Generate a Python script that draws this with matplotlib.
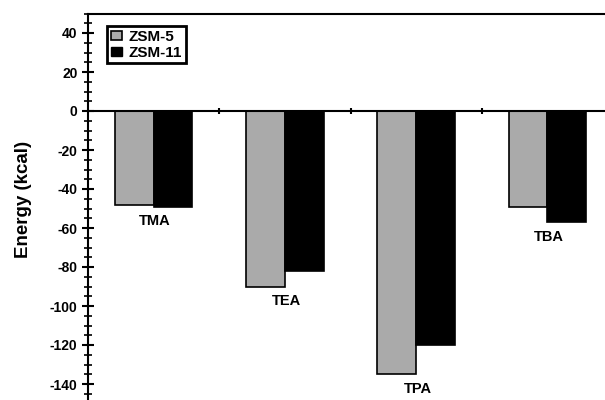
import matplotlib
matplotlib.use("Agg")
import matplotlib.pyplot as plt
from matplotlib.patches import Patch
from matplotlib.ticker import MultipleLocator, FixedLocator, NullFormatter
import numpy as np

plt.rcParams['font.family'] = ['Liberation Sans', 'DejaVu Sans']

categories = ["TMA", "TEA", "TPA", "TBA"]
zsm5 = [-48, -90, -135, -49]
zsm11 = [-49, -82, -120, -57]
series_names = ["ZSM-5", "ZSM-11"]
yticks = [40, 20, 0, -20, -40, -60, -80, -100, -120, -140]

fig = plt.figure(figsize=(6.05, 4.0), dpi=100)
ax = fig.add_axes([88/605, 1 - 403.5/400, (613-88)/605, (403.5-13.5)/400])

x = np.arange(len(categories))
w = 0.295
gray = "#aaaaaa"
ax.bar(x - w/2, zsm5, width=w, color=gray, edgecolor="black", linewidth=1.2, zorder=2)
ax.bar(x + w/2, zsm11, width=w, color="black", edgecolor="black", linewidth=1.2, zorder=2)

for i, cat in enumerate(categories):
    ymin = min(zsm5[i], zsm11[i])
    ax.text(i + 0.01, ymin - 7.5, cat, ha="center", va="center",
            fontsize=10.5, fontweight="bold")

ax.set_xlim(-0.5, 3.5)
ax.set_ylim(-150, 50)

ax.spines['bottom'].set_position(('data', 0))
for s in ax.spines.values():
    s.set_linewidth(1.5)
    s.set_zorder(3)

ax.xaxis.set_major_locator(FixedLocator([0.5, 1.5, 2.5]))
ax.xaxis.set_major_formatter(NullFormatter())
ax.tick_params(axis='x', direction='inout', length=4, width=1.5)

ax.yaxis.set_major_locator(FixedLocator(yticks))
ax.yaxis.set_minor_locator(MultipleLocator(5))
ax.set_yticklabels([str(v) for v in yticks], fontsize=10, fontweight="bold")
ax.tick_params(axis='y', which='major', direction='inout', length=9, width=1.5, pad=3)
ax.tick_params(axis='y', which='minor', direction='inout', length=6, width=1.2)

fig.text(24/605, 1 - 199/400, "Energy (kcal)", rotation=90, ha="center", va="center",
         fontsize=13.5, fontweight="bold")

handles = [Patch(facecolor=gray, edgecolor="black", linewidth=1.2, label=series_names[0]),
           Patch(facecolor="black", edgecolor="black", label=series_names[1])]
leg = ax.legend(handles=handles, loc="upper left", bbox_to_anchor=(107/605, 1 - 26/400),
                bbox_transform=fig.transFigure, borderaxespad=0, fancybox=False,
                frameon=True, edgecolor="black", framealpha=1,
                prop={'weight': 'bold', 'size': 11}, handlelength=0.7, handleheight=0.55,
                handletextpad=0.45, labelspacing=0.12, borderpad=0.25)
leg.get_frame().set_linewidth(2)

fig.savefig("out.png", dpi=100)
